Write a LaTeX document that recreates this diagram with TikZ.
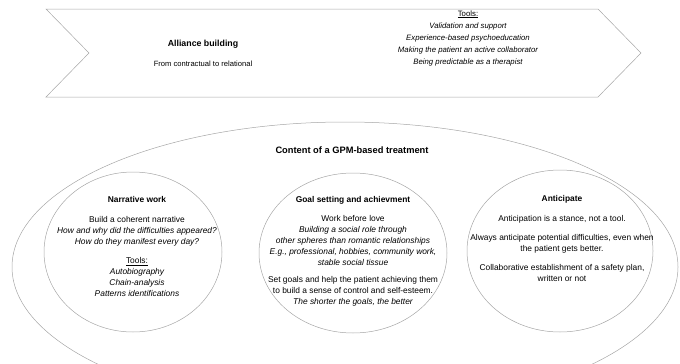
\documentclass[tikz,border=0pt]{standalone}
\usepackage{fontspec}
\setmainfont{Liberation Sans}
\usetikzlibrary{shapes.geometric}
\tikzset{every node/.style={align=center,inner sep=0pt}}
\tikzset{oval/.style={ellipse,draw=gray!70,line width=0.5pt}}
\tikzset{txt/.style={font=\fontsize{8.4}{11}\selectfont}}

\begin{document}
\begin{tikzpicture}[x=1pt,y=-1pt]
      \useasboundingbox (0,0) rectangle (680,364);
      % arrow band on top
      \draw[gray!70,line width=0.5pt] (46,9) -- (598,9) -- (641,53) -- (598,97) -- (46,97) -- (89,53) -- cycle;
      \node[txt,font=\fontsize{7.6}{11}\selectfont] (ally) at (203,53) {\textbf{\fontsize{8.8}{11}\selectfont Alliance building}\\[9pt] From contractual to relational};
      \node[txt,font=\fontsize{7.8}{12}\selectfont] (tools) at (468,38) {\underline{Tools:}\\ \itshape Validation and support\\ \itshape Experience-based psychoeducation\\ \itshape Making the patient an active collaborator\\ \itshape Being predictable as a therapist};
      % content ellipses
      \node[oval,minimum width=666,minimum height=290] (content) at (345,267) {};
      \node[font=\bfseries\fontsize{9.3}{11}\selectfont] (title) at (352,150) {Content of a GPM-based treatment};
      \node[oval,minimum width=178,minimum height=160] (narr) at (133,252) {};
      \node[oval,minimum width=188,minimum height=160] (goal) at (353,253) {};
      \node[oval,minimum width=186,minimum height=162] (anti) at (560,251) {};
      \node[txt] (narrtxt) at (137,246.5) {\textbf{Narrative work}\\[9pt] Build a coherent narrative\\ \itshape How and why did the difficulties appeared?\\ \itshape How do they manifest every day?\\[8pt] \underline{Tools:}\\ \itshape Autobiography\\ \itshape Chain-analysis\\ \itshape Patterns identifications};
      \node[txt] (goaltxt) at (353,251) {\textbf{Goal setting and achievment}\\[8pt] Work before love\\ \itshape Building a social role through\\ \itshape other spheres than romantic relationships\\ \itshape E.g., professional, hobbies, community work,\\ \itshape stable social tissue\\[6pt] Set goals and help the patient achieving them\\ to build a sense of control and self-esteem.\\ \itshape The shorter the goals, the better};
      \node[txt] (antitxt) at (562,238) {\textbf{Anticipate}\\[9pt] Anticipation is a stance, not a tool.\\[8pt] Always anticipate potential difficulties, even when\\ the patient gets better.\\[8pt] Collaborative establishment of a safety plan,\\ written or not};
    \end{tikzpicture}
\end{document}
